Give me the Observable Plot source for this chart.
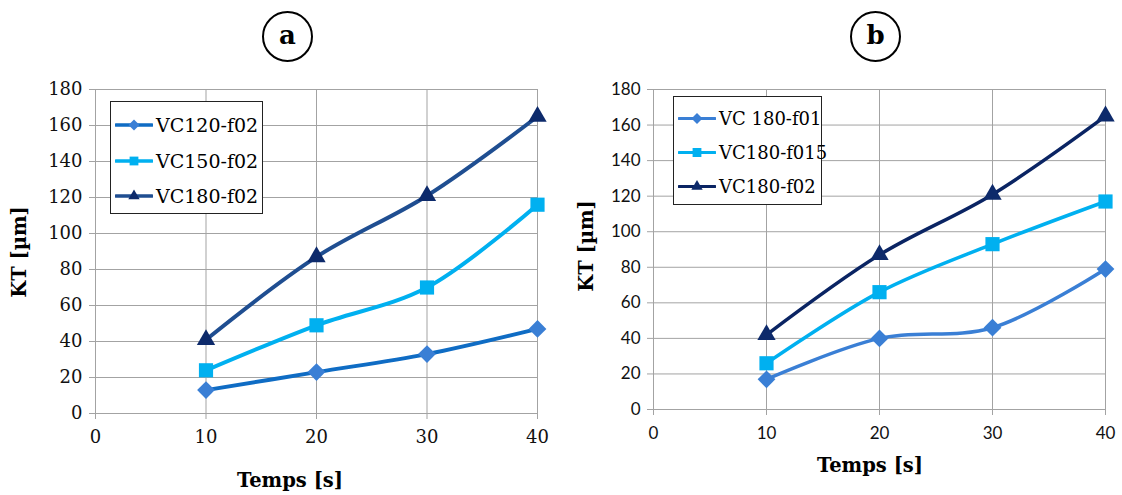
<!DOCTYPE html>
<html><head><meta charset="utf-8">
<script src="https://cdn.jsdelivr.net/npm/d3@7"></script>
<script src="https://cdn.jsdelivr.net/npm/@observablehq/plot@0.6"></script>
<style>
body{margin:0;background:#fff;}
#wrap{position:relative;width:1122px;height:495px;overflow:hidden;background:#fff;}
.panel{position:absolute;top:0;}
.circ{position:absolute;width:51px;height:51px;border:2.5px solid #000;border-radius:50%;box-sizing:border-box;
  display:flex;align-items:center;justify-content:center;font:bold 26px "DejaVu Serif",serif;line-height:1;padding-bottom:3px;}
.ttl{position:absolute;font-weight:bold;font-family:"DejaVu Serif",serif;font-size:19.5px;white-space:nowrap;transform:translate(-50%,-50%);}
.ytl{position:absolute;font-weight:bold;font-family:"DejaVu Serif",serif;font-size:19.5px;white-space:nowrap;transform:translate(-50%,-50%) rotate(-90deg);}
.leg{position:absolute;border:1px solid #222;background:#fff;font-family:"DejaVu Serif",serif;box-sizing:border-box;}
.leg .row{position:absolute;left:4px;display:flex;align-items:center;white-space:nowrap;transform:translateY(-50%);}
.leg svg{margin-right:3px;}
</style></head>
<body><div id="wrap"></div>
<script>
const times = [10, 20, 30, 40];
const xTicks = [0, 10, 20, 30, 40];
const yTicks = [0, 20, 40, 60, 80, 100, 120, 140, 160, 180];

// Panel a
const seriesA = ["VC120-f02", "VC150-f02", "VC180-f02"];
const a_vc120 = [13, 23, 33, 47];
const a_vc150 = [24, 49, 70, 116];
const a_vc180 = [41, 87, 121, 165];
// Panel b
const seriesB = ["VC 180-f01", "VC180-f015", "VC180-f02"];
const b_f01 = [17, 40, 46, 79];
const b_f015 = [26, 66, 93, 117];
const b_f02 = [42, 87, 121, 165];

const lineColA = ["#0f6cc4", "#00b0f0", "#1f4e91"];
const dotColA = ["#3a7fd5", "#00b0f0", "#0d2a6b"];
const lineColB = ["#3a7fd5", "#00b0f0", "#0a2463"];
const dotColB = ["#3a7fd5", "#00b0f0", "#0d2a6b"];
const symbols = ["diamond2", "square", "triangle"];
const symR = [8, 8, 6.8];

function rows(names, vals) {
  const out = [];
  names.forEach((n, i) => times.forEach((t, j) => out.push({series: n, idx: i, t, v: vals[i][j]})));
  return out;
}

const grid = "#a3a3a3";
function panel(o) {
  const data = rows(o.names, o.vals);
  const marks = [
    Plot.gridX({ticks: xTicks, stroke: grid, strokeOpacity: 1}),
    Plot.gridY({ticks: yTicks, stroke: grid, strokeOpacity: 1}),
    Plot.axisX({ticks: xTicks, tickSize: 6, tickPadding: 11, stroke: grid, fill: "#111", label: null}),
    Plot.axisY({ticks: yTicks, tickSize: 6, tickPadding: 7, stroke: grid, fill: "#111", label: null})
  ];
  o.names.forEach((n, i) => {
    const d = data.filter(r => r.idx === i);
    marks.push(Plot.line(d, {x: "t", y: "v", stroke: o.lineCol[i], strokeWidth: o.sw, curve: "catmull-rom"}));
  });
  o.names.forEach((n, i) => {
    const d = data.filter(r => r.idx === i);
    marks.push(Plot.dot(d, {x: "t", y: "v", symbol: () => symbols[i], r: symR[i], fill: o.dotCol[i], stroke: "none"}));
  });
  return Plot.plot({
    width: o.w, height: 495,
    marginLeft: o.ml, marginRight: o.mr, marginTop: o.mt, marginBottom: o.mb,
    x: {domain: [0, 40]},
    y: {domain: [0, 180]},
    symbol: {type: "identity"},
    style: {background: "transparent", overflow: "visible", fontFamily: o.tickFont, fontSize: o.tickFs + "px"},
    marks
  });
}

const wrap = document.getElementById("wrap");
const pa = panel({names: seriesA, vals: [a_vc120, a_vc150, a_vc180], lineCol: lineColA, dotCol: dotColA,
  w: 560, ml: 95, mr: 23, mt: 89, mb: 82, sw: 4, tickFs: 18, tickFont: "'DejaVu Serif', serif"});
pa.classList.add("panel"); pa.style.left = "0px";
wrap.appendChild(pa);
const pb = panel({names: seriesB, vals: [b_f01, b_f015, b_f02], lineCol: lineColB, dotCol: dotColB,
  w: 562, ml: 93, mr: 17, mt: 89, mb: 86, sw: 3.5, tickFs: 17, tickFont: "Lato, sans-serif"});
pb.classList.add("panel"); pb.style.left = "560px";
wrap.appendChild(pb);

function addDiv(cls, html, css) {
  const d = document.createElement("div");
  d.className = cls; d.innerHTML = html; Object.assign(d.style, css); wrap.appendChild(d); return d;
}
addDiv("circ", "a", {left: "262px", top: "11px"});
addDiv("circ", "b", {left: "850px", top: "11px"});
addDiv("ttl", "Temps [s]", {left: "290px", top: "480px"});
addDiv("ttl", "Temps [s]", {left: "870px", top: "465px"});
addDiv("ytl", "KT [µm]", {left: "19px", top: "252px"});
addDiv("ytl", "KT [µm]", {left: "586px", top: "246px"});

function symPath(i, r) {
  return d3.symbol(d3[{diamond2: "symbolDiamond2", square: "symbolSquare", triangle: "symbolTriangle"}[symbols[i]]], Math.PI * r * r)();
}
function legend(names, lineCol, dotCol, css, rowYs, fs, sw) {
  const lg = addDiv("leg", "", css);
  names.forEach((n, i) => {
    const r = document.createElement("div");
    r.className = "row";
    r.style.top = rowYs[i] + "px";
    r.style.fontSize = fs + "px";
    const rr = symR[i] * 0.62;
    r.innerHTML = `<svg width="38" height="16" viewBox="0 0 38 16"><line x1="1" x2="37" y1="8" y2="8" stroke="${lineCol[i]}" stroke-width="${sw}" stroke-linecap="round"/><path transform="translate(19,8)" d="${symPath(i, rr)}" fill="${dotCol[i]}"/></svg><span>${n}</span>`;
    lg.appendChild(r);
  });
}
legend(seriesA, lineColA, dotColA, {left: "110px", top: "101px", width: "153px", height: "113px"}, [23, 59, 94], 19, 3.5);
legend(seriesB, lineColB, dotColB, {left: "673px", top: "96px", width: "149px", height: "109px"}, [21, 55, 89], 18, 3);
</script></body></html>
